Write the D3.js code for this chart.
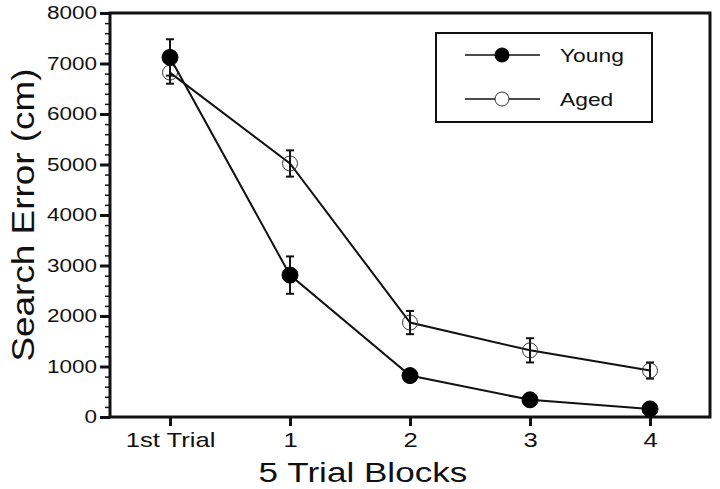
<!DOCTYPE html>
<html>
<head>
<meta charset="utf-8">
<script src="https://cdn.jsdelivr.net/npm/d3@7/dist/d3.min.js"></script>
<style>
  body { margin: 0; background: #fff; }
  text { font-family: "Liberation Sans", Arial, sans-serif; fill: #111; }
</style>
</head>
<body>
<div id="chart"></div>
<script>
// data
var blocks = ["1st Trial", "1", "2", "3", "4"];
var young = [7120, 2810, 820, 340, 160];
var youngErr = [360, 370, 90, 40, 40];
var aged = [6820, 5020, 1870, 1320, 920];
var agedErr = [220, 260, 230, 240, 160];
var yTicks = [0, 1000, 2000, 3000, 4000, 5000, 6000, 7000, 8000];

var svgWidth = 720, svgHeight = 489;
var margin = { top: 13, right: 10, bottom: 72, left: 110 };
var chartWidth = svgWidth - margin.left - margin.right;
var chartHeight = svgHeight - margin.top - margin.bottom;

var svg = d3.select("#chart").append("svg")
  .attr("width", svgWidth)
  .attr("height", svgHeight);

var chartGroup = svg.append("g")
  .attr("transform", `translate(${margin.left}, ${margin.top})`);

var xScale = d3.scalePoint()
  .domain(blocks)
  .range([0, chartWidth])
  .padding(0.5);

var yScale = d3.scaleLinear()
  .domain([0, 8000])
  .range([chartHeight, 0]);

// stretch text horizontally like the scanned figure
function stretch(sel, k) {
  sel.each(function() {
    var w = this.getComputedTextLength();
    d3.select(this).attr("textLength", w * k).attr("lengthAdjust", "spacingAndGlyphs");
  });
}

// minor ticks on y
chartGroup.append("g")
  .call(d3.axisLeft(yScale).tickValues(d3.range(0, 8001, 200)).tickSize(5).tickFormat(""))
  .call(g => g.select(".domain").remove())
  .selectAll("line").attr("stroke", "#111").attr("stroke-width", 1.5);

// major y axis
var yAxisG = chartGroup.append("g")
  .call(d3.axisLeft(yScale).tickValues(yTicks).tickSize(10).tickPadding(3).tickFormat(d3.format("d")));
yAxisG.select(".domain").remove();
yAxisG.selectAll("line").attr("stroke", "#111").attr("stroke-width", 3);
yAxisG.selectAll("text").attr("font-size", 18).attr("fill", "#111").call(stretch, 1.25);

// x axis
var xAxisG = chartGroup.append("g")
  .attr("transform", `translate(0, ${chartHeight})`)
  .call(d3.axisBottom(xScale).tickSize(9).tickPadding(6));
xAxisG.select(".domain").remove();
xAxisG.selectAll("line").attr("stroke", "#111").attr("stroke-width", 3);
xAxisG.selectAll("text").attr("font-size", 21).attr("fill", "#111").call(stretch, 1.22);

// frame
chartGroup.append("rect")
  .attr("x", 0).attr("y", 0)
  .attr("width", chartWidth).attr("height", chartHeight)
  .attr("fill", "none").attr("stroke", "#111").attr("stroke-width", 3);

var line = d3.line()
  .x((d, i) => xScale(blocks[i]))
  .y(d => yScale(d));

function drawSeries(vals, errs, filled) {
  chartGroup.append("path")
    .datum(vals)
    .attr("d", line)
    .attr("fill", "none")
    .attr("stroke", "#111")
    .attr("stroke-width", 2);

  var eb = chartGroup.append("g").selectAll("g")
    .data(vals)
    .enter().append("g");
  eb.append("line")
    .attr("x1", (d, i) => xScale(blocks[i])).attr("x2", (d, i) => xScale(blocks[i]))
    .attr("y1", (d, i) => yScale(d + errs[i])).attr("y2", (d, i) => yScale(d - errs[i]))
    .attr("stroke", "#111").attr("stroke-width", 2);
  [1, -1].forEach(function(s) {
    eb.append("line")
      .attr("x1", (d, i) => xScale(blocks[i]) - 4).attr("x2", (d, i) => xScale(blocks[i]) + 4)
      .attr("y1", (d, i) => yScale(d + s * errs[i])).attr("y2", (d, i) => yScale(d + s * errs[i]))
      .attr("stroke", "#111").attr("stroke-width", 2);
  });

  chartGroup.append("g").selectAll("circle")
    .data(vals)
    .enter().append("circle")
    .attr("cx", (d, i) => xScale(blocks[i]))
    .attr("cy", d => yScale(d))
    .attr("r", filled ? 8 : 7.5)
    .attr("fill", filled ? "#000" : "none")
    .attr("stroke", filled ? "#000" : "#333")
    .attr("stroke-width", 1);
}

drawSeries(aged, agedErr, false);
drawSeries(young, youngErr, true);

// legend
var legend = svg.append("g").attr("transform", "translate(436, 33)");
legend.append("rect")
  .attr("width", 216).attr("height", 89)
  .attr("fill", "#fff").attr("stroke", "#111").attr("stroke-width", 2);
var legendItems = [{ name: "Young", filled: true }, { name: "Aged", filled: false }];
legendItems.forEach(function(it, i) {
  var y = 22 + i * 44;
  legend.append("line")
    .attr("x1", 29).attr("x2", 104).attr("y1", y).attr("y2", y)
    .attr("stroke", "#111").attr("stroke-width", 1.5);
  legend.append("circle")
    .attr("cx", 66).attr("cy", y).attr("r", 7)
    .attr("fill", it.filled ? "#000" : "#fff")
    .attr("stroke", it.filled ? "#000" : "#333").attr("stroke-width", 1);
  legend.append("text")
    .attr("x", 124).attr("y", y + 7)
    .attr("font-size", 19)
    .text(it.name)
    .call(stretch, 1.2);
});

// axis titles
svg.append("text")
  .attr("x", 363)
  .attr("y", 482)
  .attr("text-anchor", "middle")
  .attr("font-size", 27)
  .text("5 Trial Blocks")
  .call(stretch, 1.3);

svg.append("text")
  .attr("transform", "translate(34, 215) rotate(-90)")
  .attr("text-anchor", "middle")
  .attr("font-size", 31)
  .text("Search Error (cm)")
  .call(stretch, 1.19);
</script>
</body>
</html>
